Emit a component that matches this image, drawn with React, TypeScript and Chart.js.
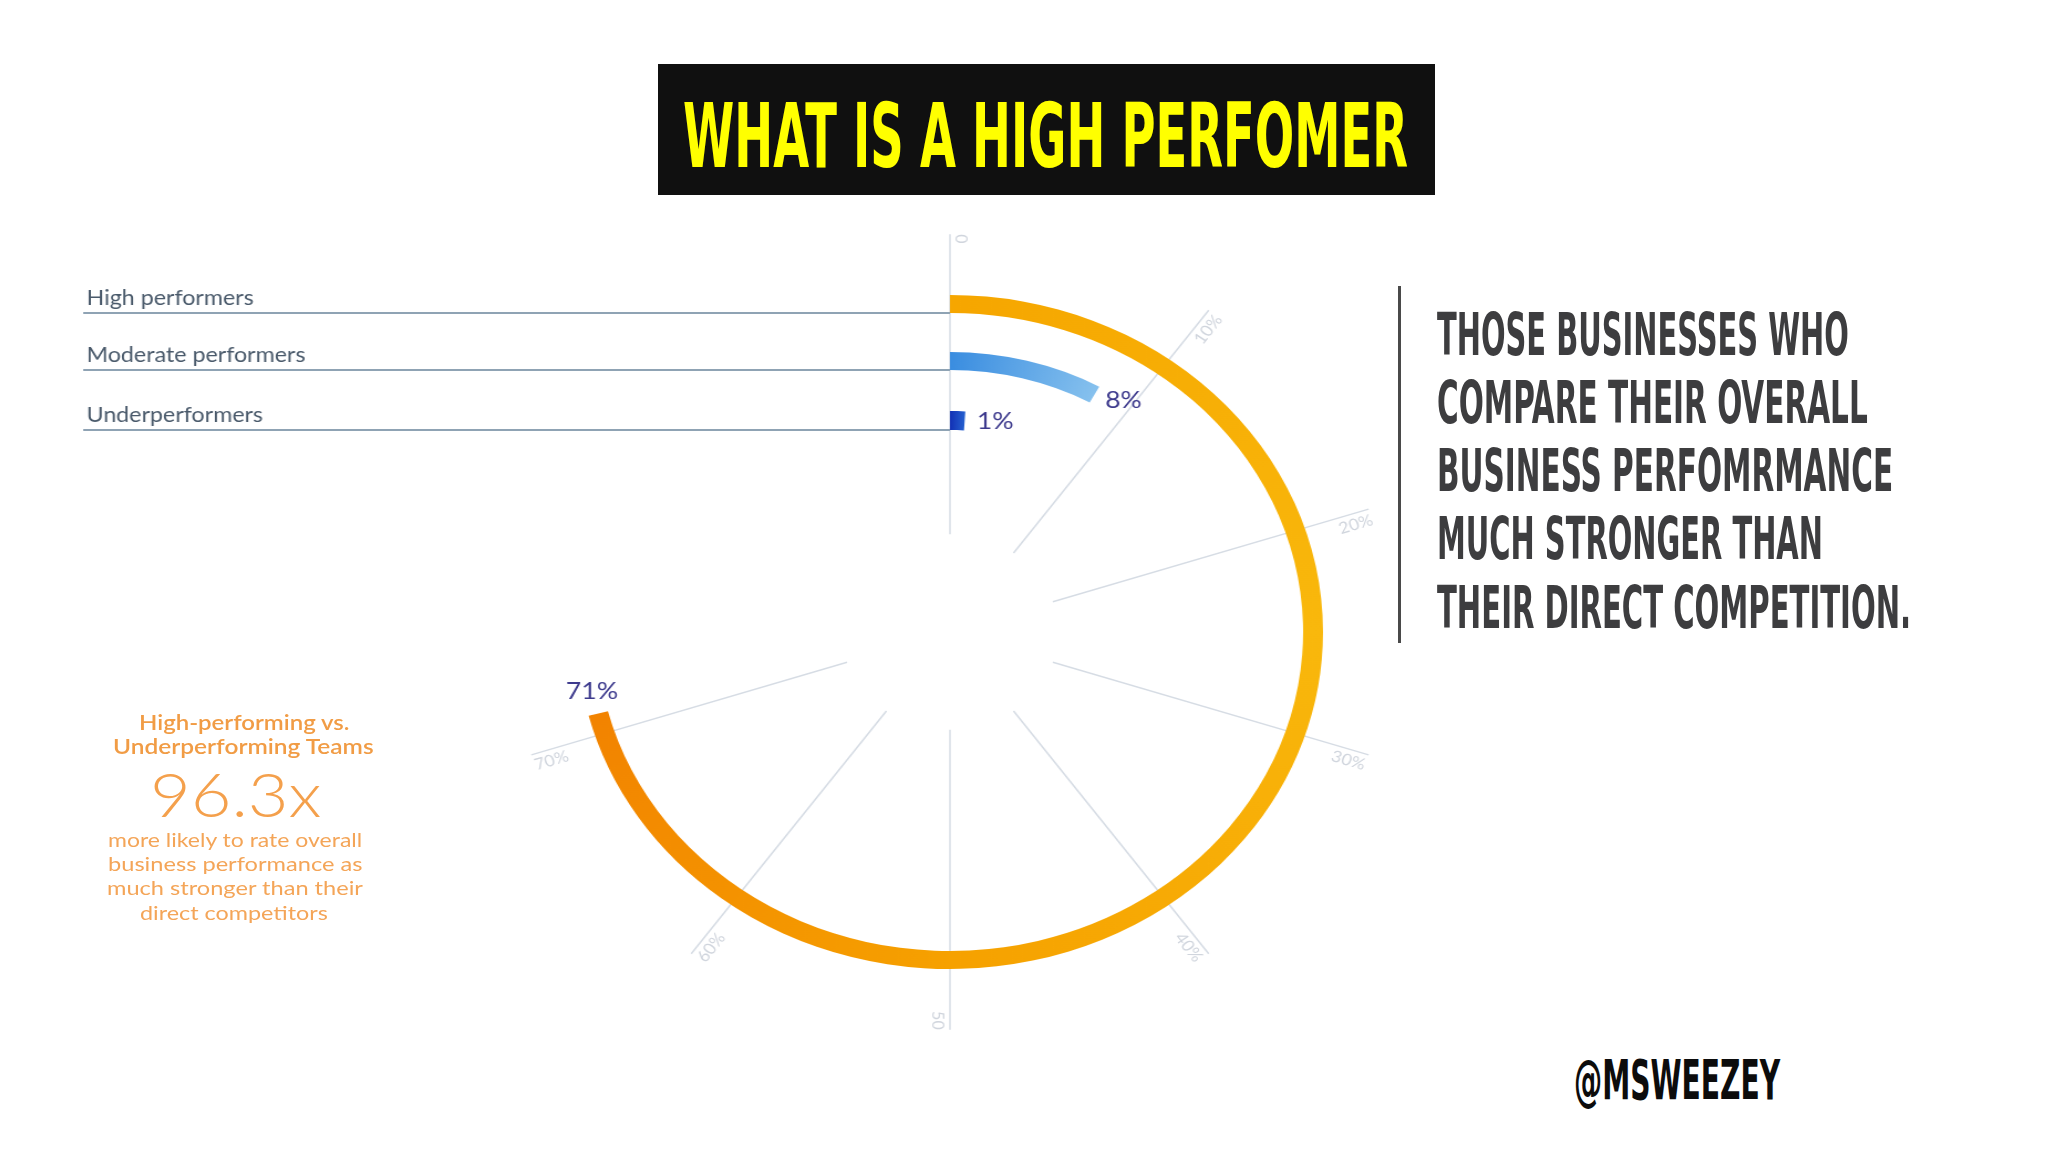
import React, { useEffect, useLayoutEffect, useRef, useState } from "react";
import { Chart, registerables } from "chart.js";

Chart.register(...registerables);

// ---------------- data ----------------
const ringLabels = ["High performers", "Moderate performers", "Underperformers"];
const ringValues = [71, 8, 1];
const scaleMax = 100;
const gridTicks = [0, 10, 20, 30, 40, 50, 60, 70];
const gridTickLabels = ["0", "10%", "20%", "30%", "40%", "50", "60%", "70%"];

const titleText = "WHAT IS A HIGH PERFOMER";
const sideLines = [
  "THOSE BUSINESSES WHO",
  "COMPARE THEIR OVERALL",
  "BUSINESS PERFOMRMANCE",
  "MUCH STRONGER THAN",
  "THEIR DIRECT COMPETITION.",
];
const calloutHeading = ["High-performing vs.", "Underperforming Teams"];
const calloutFigure = "96.3x";
const calloutBody = [
  "more likely to rate overall",
  "business performance as",
  "much stronger than their",
  "direct competitors",
];
const handleText = "@MSWEEZEY";

// ---------------- styles / layout ----------------
const ringStops: [number, string][][] = [
  [[0, "#f6a600"], [0.25, "#f9b80c"], [0.5, "#f6a100"], [0.71, "#f28300"], [1, "#f28300"]],
  [[0, "#3a8de0"], [0.08, "#86c1ee"], [1, "#86c1ee"]],
  [[0, "#1230b5"], [0.013, "#2b6fd8"], [1, "#2b6fd8"]],
];
const ringWeights = [18, 18, 19];
const gapWeights = [39, 41];

const STRETCH = 1.107;
const CANVAS_W = 1280;
const CANVAS_H = 900;
const CANVAS_LEFT = 40;
const CANVAS_TOP = 182;
const LABEL_X = 39;

const CONDENSED = "'Liberation Sans Narrow', 'DejaVu Sans Condensed', 'DejaVu Sans', sans-serif";
const HUMANIST = "Lato, 'Open Sans', sans-serif";

function conic(chart: any, stops: [number, string][]) {
  const area = chart.chartArea;
  if (!area || !chart.ctx.createConicGradient) return stops[0][1];
  const cx = (area.left + area.right) / 2;
  const cy = (area.top + area.bottom) / 2;
  const g = chart.ctx.createConicGradient(-Math.PI / 2, cx, cy);
  stops.forEach(([o, c]) => g.addColorStop(o, c));
  return g;
}

const decorPlugin = {
  id: "radialDecor",
  beforeDatasetsDraw(chart: any) {
    const outer = chart.getDatasetMeta(0).data[0];
    if (!outer) return;
    const { x, y, outerRadius } = outer;
    const ctx = chart.ctx;
    const r0 = outerRadius * 0.29;
    const r1 = outerRadius * 1.18;
    ctx.save();
    gridTicks.forEach((t, i) => {
      const a = -Math.PI / 2 + (t / scaleMax) * Math.PI * 2;
      ctx.beginPath();
      ctx.strokeStyle = "#d6dce4";
      ctx.lineWidth = 1.5;
      ctx.moveTo(x + r0 * Math.cos(a), y + r0 * Math.sin(a));
      ctx.lineTo(x + r1 * Math.cos(a), y + r1 * Math.sin(a));
      ctx.stroke();
      const flip = t / scaleMax > 0.5;
      ctx.save();
      ctx.translate(x + r1 * Math.cos(a), y + r1 * Math.sin(a));
      ctx.rotate(flip ? a + Math.PI : a);
      ctx.font = "16px Lato";
      ctx.fillStyle = "#d0d5dd";
      ctx.textAlign = flip ? "left" : "right";
      ctx.textBaseline = "top";
      ctx.fillText(gridTickLabels[i], 0, 3);
      ctx.restore();
    });
    ctx.restore();
  },
  afterDatasetsDraw(chart: any) {
    const ctx = chart.ctx;
    ctx.save();
    ringValues.forEach((v, i) => {
      const el = chart.getDatasetMeta(i * 2).data[0];
      if (!el) return;
      const { x, y, innerRadius, outerRadius, endAngle } = el;
      const ly = y - innerRadius;
      ctx.beginPath();
      ctx.strokeStyle = "#8fa3b4";
      ctx.lineWidth = 2;
      ctx.moveTo(LABEL_X, ly);
      ctx.lineTo(x, ly);
      ctx.stroke();
      ctx.font = "21px Lato";
      ctx.fillStyle = "#4a5a6b";
      ctx.textAlign = "left";
      ctx.textBaseline = "alphabetic";
      ctx.fillText(ringLabels[i], LABEL_X + 3, ly - 8);

      const rm = (innerRadius + outerRadius) / 2;
      const px = x + rm * Math.cos(endAngle);
      const py = y + rm * Math.sin(endAngle);
      const tx = -Math.sin(endAngle);
      const ty = Math.cos(endAngle);
      const side = tx > 0.3;
      const d = side ? 11 : 23;
      ctx.font = "24px Lato";
      ctx.fillStyle = "#3d3a8d";
      ctx.textAlign = side ? "left" : "center";
      ctx.textBaseline = "middle";
      ctx.fillText(`${v}%`, px + tx * d, py + ty * d);
    });
    ctx.restore();
  },
};

function RadialChart() {
  const ref = useRef<HTMLCanvasElement>(null);
  useEffect(() => {
    const canvas = ref.current;
    if (!canvas) return;
    const datasets: any[] = [];
    ringValues.forEach((v, i) => {
      datasets.push({
        label: ringLabels[i],
        data: [v, scaleMax - v],
        weight: ringWeights[i],
        backgroundColor: (c: any) => (c.dataIndex === 0 ? conic(c.chart, ringStops[i]) : "rgba(0,0,0,0)"),
        borderWidth: 0,
        hoverBorderWidth: 0,
        hoverOffset: 0,
      });
      if (i < ringValues.length - 1) {
        datasets.push({
          label: "",
          data: [scaleMax],
          weight: gapWeights[i],
          backgroundColor: "rgba(0,0,0,0)",
          borderWidth: 0,
          hoverBorderWidth: 0,
          hoverOffset: 0,
        });
      }
    });
    const chart = new Chart(canvas, {
      type: "doughnut",
      data: { labels: ["value", "rest"], datasets },
      options: {
        animation: false,
        responsive: true,
        maintainAspectRatio: false,
        events: [],
        radius: 337,
        cutout: `${(202 / 337) * 100}%`,
        layout: { padding: { left: 394, right: 30, top: 100, bottom: 100 } },
        plugins: { legend: { display: false }, tooltip: { enabled: false } },
      } as any,
      plugins: [decorPlugin],
    });
    return () => chart.destroy();
  }, []);
  return (
    <div
      style={{
        position: "absolute",
        left: CANVAS_LEFT,
        top: CANVAS_TOP,
        width: CANVAS_W,
        height: CANVAS_H,
        transform: `scaleX(${STRETCH})`,
        transformOrigin: "0 0",
      }}
    >
      <canvas ref={ref} />
    </div>
  );
}

function FitLine(props: {
  text: string;
  x: number;
  w: number;
  baseline: number;
  size: number;
  family: string;
  weight: number;
  color: string;
  bOff: number;
}) {
  const { text, x, w, baseline, size, family, weight, color, bOff } = props;
  const ref = useRef<HTMLDivElement>(null);
  const [k, setK] = useState(1);
  useLayoutEffect(() => {
    const el = ref.current;
    if (!el) return;
    let alive = true;
    const m = () => {
      if (!alive) return;
      const nw = el.offsetWidth;
      if (nw > 0) setK(w / nw);
    };
    m();
    const f = (document as any).fonts;
    if (f && f.ready) f.ready.then(m);
    return () => {
      alive = false;
    };
  }, [text, w, size, family, weight]);
  return (
    <div
      ref={ref}
      style={{
        position: "absolute",
        left: x,
        top: baseline - bOff * size,
        fontSize: size,
        lineHeight: `${size}px`,
        fontFamily: family,
        fontWeight: weight,
        color,
        whiteSpace: "nowrap",
        transform: `scaleX(${k})`,
        transformOrigin: "0 0",
      }}
    >
      {text}
    </div>
  );
}

const sideWidths = [412, 431, 456, 386, 474];
const sideBaselines = [355, 423, 491, 559, 628];
const headX = [139, 113];
const headW = [210, 261];
const headBase = [730, 754];
const bodyX = [108, 108, 107, 140];
const bodyW = [254, 255, 256, 188];
const bodyBase = [847, 871, 895, 920];

export default function App() {
  return (
    <div
      style={{
        position: "fixed",
        left: 0,
        top: 0,
        width: 2048,
        height: 1152,
        background: "#ffffff",
        overflow: "hidden",
      }}
    >
      <RadialChart />

      <div
        style={{
          position: "absolute",
          left: 658,
          top: 64,
          width: 777,
          height: 131,
          background: "#101010",
        }}
      />
      <FitLine text={titleText} x={683} w={725} baseline={167} size={89} family={CONDENSED} weight={700} color="#ffff00" bOff={0.846} />

      <div style={{ position: "absolute", left: 1398, top: 286, width: 3, height: 357, background: "#4a4a4a" }} />
      {sideLines.map((t, i) => (
        <FitLine key={t} text={t} x={1437} w={sideWidths[i]} baseline={sideBaselines[i]} size={59} family={CONDENSED} weight={700} color="#3d3d3f" bOff={0.846} />
      ))}

      {calloutHeading.map((t, i) => (
        <FitLine key={t} text={t} x={headX[i]} w={headW[i]} baseline={headBase[i]} size={21} family={HUMANIST} weight={600} color="#f19c45" bOff={0.887} />
      ))}
      <FitLine text={calloutFigure} x={150} w={171} baseline={817} size={62} family={HUMANIST} weight={300} color="#f4a04c" bOff={0.887} />
      {calloutBody.map((t, i) => (
        <FitLine key={t} text={t} x={bodyX[i]} w={bodyW[i]} baseline={bodyBase[i]} size={20} family={HUMANIST} weight={400} color="#f4a558" bOff={0.887} />
      ))}

      <FitLine text={handleText} x={1574} w={206} baseline={1100} size={55} family={CONDENSED} weight={900} color="#0c0c0c" bOff={0.846} />
    </div>
  );
}
